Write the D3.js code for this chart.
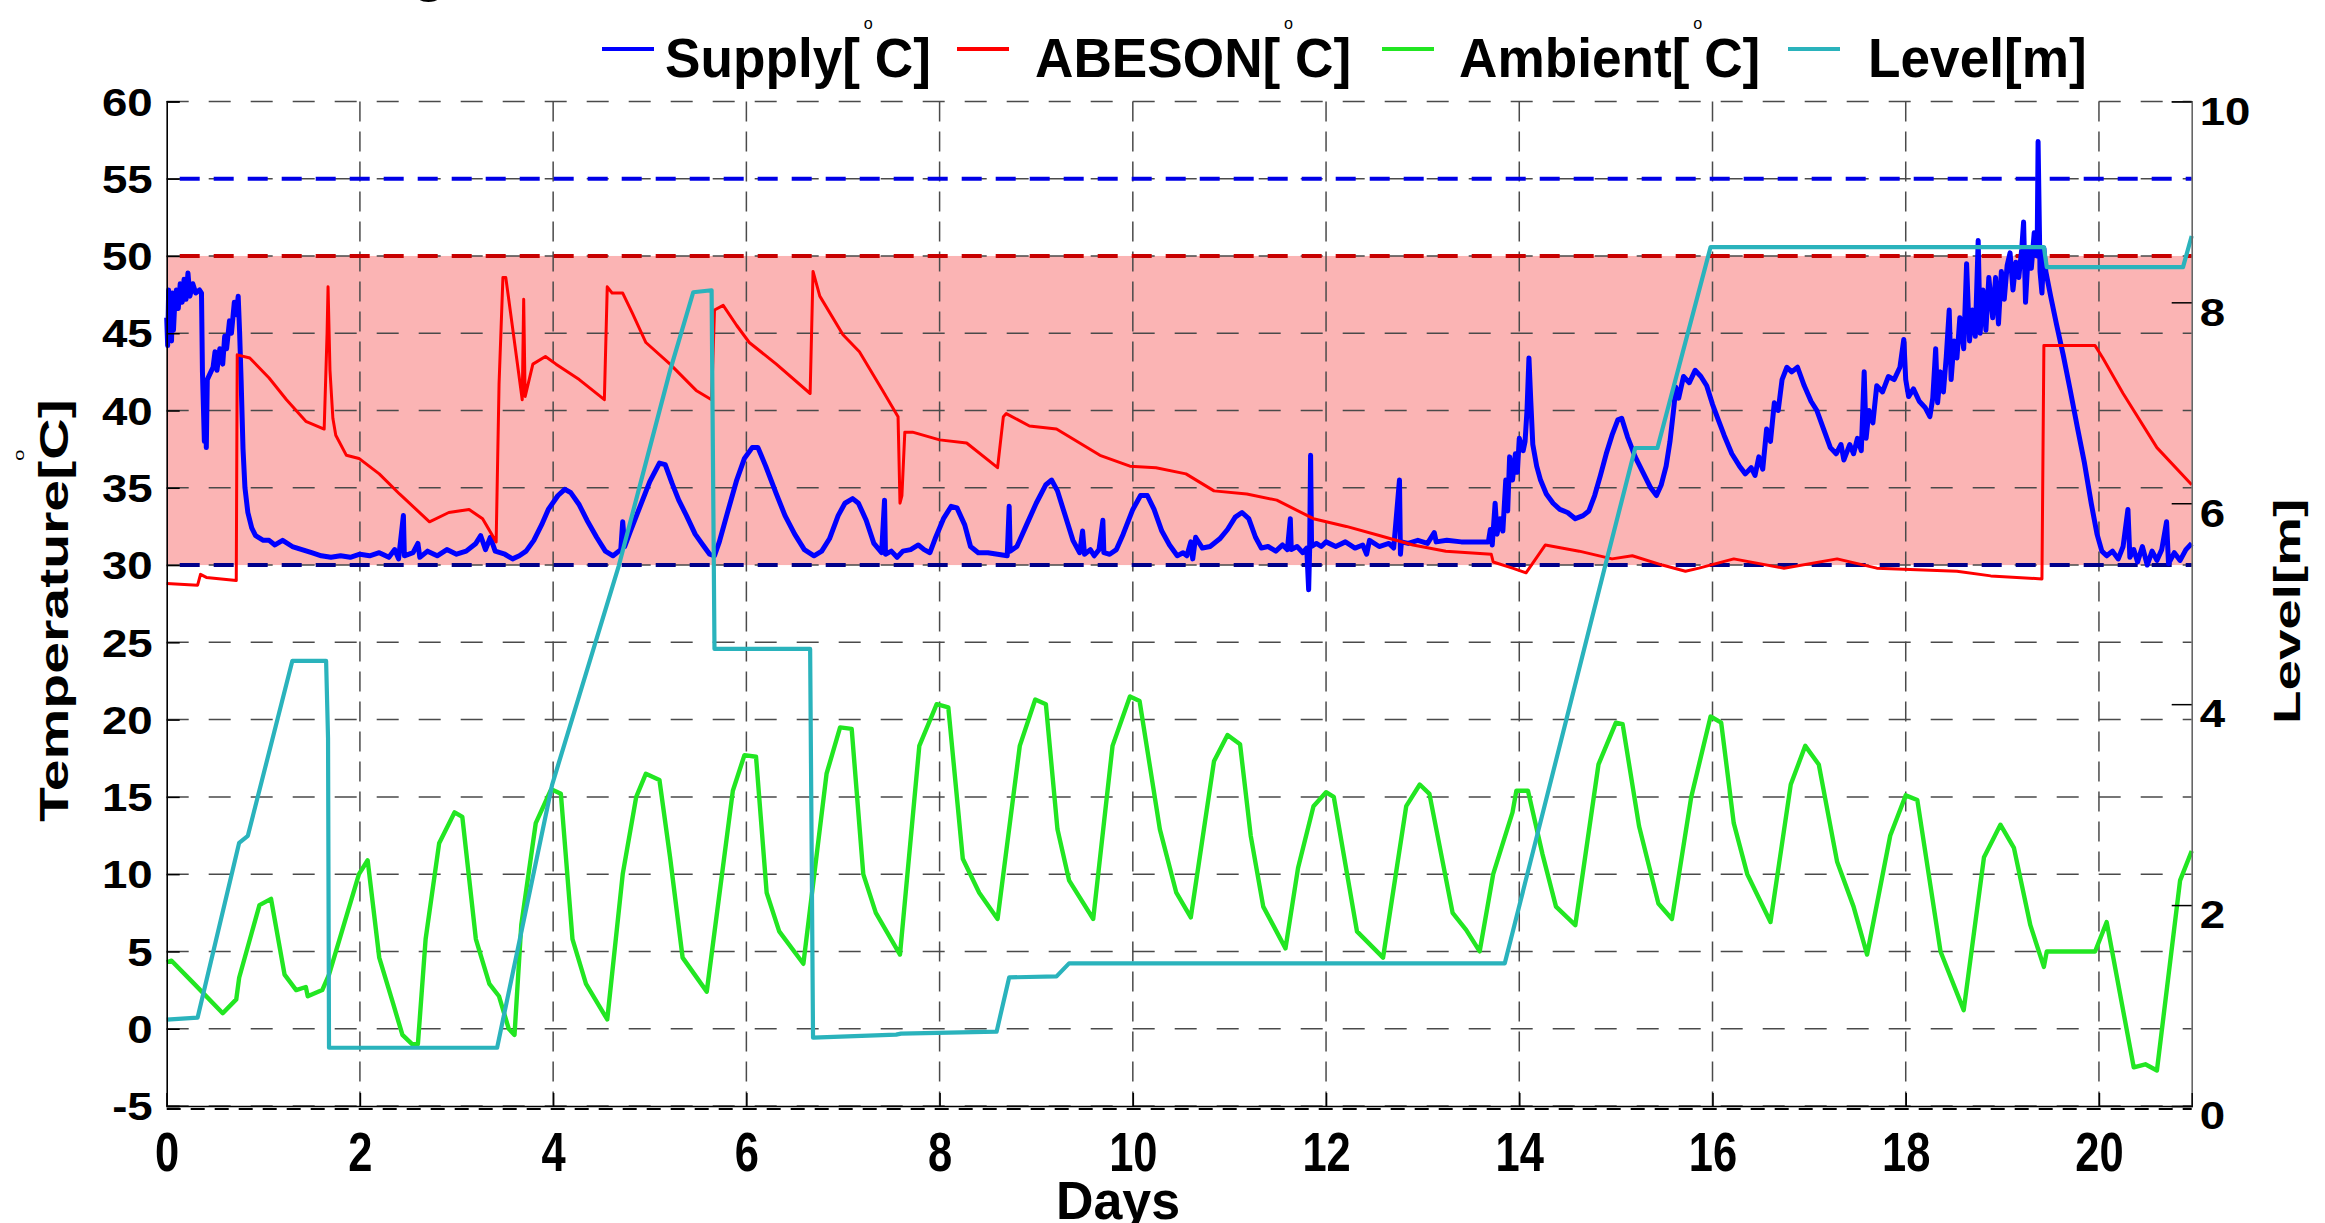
<!DOCTYPE html>
<html><head><meta charset="utf-8">
<script src="https://cdn.jsdelivr.net/npm/d3@7"></script>
<style>
html,body{margin:0;padding:0;background:#fff;overflow:hidden}
svg{display:block;font-family:"Liberation Sans",Arial,Helvetica,sans-serif;font-weight:bold}
</style></head><body>
<svg id="chart" width="2325" height="1223"></svg>
<script>
// ---------------- data ----------------
const xTicks = [0,2,4,6,8,10,12,14,16,18,20];
const tempTicks = [-5,0,5,10,15,20,25,30,35,40,45,50,55,60];
const levelTicks = [0,2,4,6,8,10];
const bandLow = 30, bandHigh = 50, supplyLimit = 55;

const supplyDays = [0,0.01,0.02,0.03,0.04,0.05,0.06,0.07,0.08,0.10,0.12,0.14,0.16,0.18,0.20,0.22,0.24,0.27,0.30,0.34,0.36,0.37,0.39,0.40,0.41,0.42,0.45,0.48,0.50,0.52,0.55,0.58,0.60,0.62,0.65,0.67,0.70,0.72,0.74,0.755,0.77,0.79,0.81,0.84,0.88,0.92,1.00,1.06,1.12,1.20,1.30,1.40,1.50,1.60,1.70,1.80,1.90,2.00,2.10,2.20,2.30,2.36,2.40,2.45,2.46,2.55,2.60,2.62,2.70,2.80,2.90,3.00,3.10,3.20,3.25,3.30,3.35,3.40,3.50,3.58,3.65,3.72,3.80,3.88,3.95,4.05,4.12,4.18,4.27,4.35,4.45,4.54,4.62,4.70,4.72,4.74,4.80,4.90,5.00,5.10,5.16,5.23,5.30,5.38,5.47,5.55,5.62,5.67,5.72,5.80,5.90,5.98,6.06,6.12,6.20,6.31,6.40,6.50,6.60,6.70,6.78,6.86,6.95,7.02,7.10,7.16,7.24,7.32,7.40,7.43,7.44,7.50,7.56,7.62,7.70,7.78,7.84,7.90,7.96,8.04,8.12,8.18,8.26,8.32,8.40,8.50,8.60,8.70,8.72,8.73,8.80,8.90,9.00,9.10,9.16,9.22,9.30,9.38,9.45,9.48,9.50,9.56,9.60,9.65,9.69,9.70,9.76,9.83,9.90,10.00,10.08,10.15,10.22,10.30,10.38,10.46,10.52,10.56,10.60,10.62,10.65,10.72,10.80,10.90,10.98,11.06,11.13,11.20,11.27,11.33,11.40,11.48,11.55,11.60,11.63,11.64,11.70,11.76,11.80,11.82,11.83,11.84,11.85,11.90,11.95,12.00,12.10,12.20,12.30,12.38,12.42,12.45,12.55,12.65,12.70,12.76,12.77,12.78,12.85,12.95,13.05,13.12,13.14,13.25,13.40,13.55,13.68,13.70,13.72,13.75,13.77,13.80,13.83,13.86,13.88,13.90,13.93,13.96,13.98,14.00,14.04,14.06,14.08,14.10,14.12,14.14,14.18,14.22,14.28,14.35,14.42,14.50,14.58,14.66,14.72,14.78,14.84,14.90,14.96,15.02,15.06,15.12,15.20,15.28,15.36,15.42,15.47,15.52,15.56,15.60,15.62,15.65,15.70,15.76,15.82,15.88,15.94,16.00,16.06,16.12,16.20,16.28,16.34,16.40,16.44,16.48,16.52,16.56,16.60,16.64,16.68,16.72,16.77,16.82,16.88,16.95,17.02,17.08,17.15,17.22,17.28,17.33,17.36,17.42,17.46,17.50,17.54,17.57,17.59,17.62,17.66,17.70,17.76,17.82,17.88,17.94,17.98,18.00,18.03,18.08,18.14,18.20,18.25,18.28,18.31,18.33,18.36,18.39,18.42,18.45,18.47,18.50,18.53,18.56,18.60,18.63,18.66,18.69,18.72,18.75,18.77,18.80,18.83,18.86,18.90,18.93,18.96,18.99,19.02,19.05,19.08,19.11,19.14,19.17,19.20,19.22,19.24,19.27,19.30,19.33,19.36,19.37,19.39,19.41,19.43,19.45,19.50,19.56,19.63,19.70,19.78,19.85,19.92,19.98,20.03,20.08,20.14,20.20,20.25,20.30,20.32,20.36,20.40,20.45,20.50,20.55,20.60,20.65,20.70,20.72,20.78,20.84,20.90,20.96];
const supplyTemp = [46.0,44.2,47.8,44.8,47.2,44.5,47.6,45.2,46.5,47.8,46.6,48.2,47.0,48.5,47.2,48.9,47.4,48.2,47.6,47.8,47.6,42.5,38.0,41.0,37.6,42.0,42.4,42.8,43.8,42.6,44.0,43.0,44.8,44.0,45.8,45.0,47.0,46.2,47.4,45.0,42.0,37.5,35.0,33.4,32.4,31.9,31.6,31.6,31.3,31.6,31.2,31.0,30.8,30.6,30.5,30.6,30.5,30.7,30.6,30.8,30.5,31.0,30.4,33.2,30.6,30.8,31.4,30.5,30.9,30.6,31.0,30.7,30.9,31.4,31.9,31.0,31.8,30.9,30.7,30.4,30.6,30.9,31.6,32.6,33.6,34.5,34.9,34.7,33.9,32.9,31.8,30.9,30.6,31.0,32.8,31.2,32.2,33.8,35.4,36.6,36.5,35.3,34.2,33.2,32.0,31.3,30.7,30.6,31.5,33.3,35.5,36.9,37.6,37.6,36.4,34.6,33.2,32.0,31.0,30.6,30.9,31.7,33.2,34.0,34.3,34.0,32.9,31.4,30.8,34.2,30.7,30.9,30.5,30.9,31.0,31.3,31.0,30.8,31.8,33.0,33.8,33.7,32.6,31.2,30.8,30.8,30.7,30.6,33.8,30.9,31.2,32.6,34.0,35.2,35.5,34.8,33.2,31.6,30.8,32.2,30.7,31.0,30.6,31.0,32.9,30.8,30.7,31.0,32.0,33.6,34.5,34.5,33.6,32.2,31.3,30.6,30.8,30.6,31.5,30.4,31.8,31.1,31.2,31.7,32.3,33.1,33.4,33.0,31.8,31.1,31.2,30.9,31.3,31.0,33.0,31.0,31.2,30.8,31.1,28.4,31.0,37.1,31.2,31.4,31.2,31.5,31.2,31.5,31.1,31.3,30.7,31.6,31.2,31.4,31.1,35.5,30.7,31.5,31.4,31.6,31.4,32.1,31.5,31.6,31.5,31.5,31.5,32.3,31.3,34.0,32.0,33.0,32.2,35.5,33.5,37.0,35.5,37.2,36.0,38.2,37.4,38.0,40.0,43.4,40.5,37.8,36.4,35.5,34.6,34.0,33.6,33.4,33.0,33.2,33.5,34.5,35.8,37.2,38.4,39.4,39.5,38.3,37.0,36.0,35.0,34.5,35.2,36.4,38.0,40.2,41.5,40.8,42.2,41.8,42.6,42.2,41.6,40.4,39.4,38.4,37.2,36.4,35.9,36.3,35.8,37.0,36.2,38.8,38.0,40.5,40.0,42.0,42.8,42.5,42.8,41.6,40.6,40.0,38.8,37.6,37.2,37.8,36.8,37.8,37.2,38.2,37.4,42.5,38.2,40.0,39.2,41.6,41.2,42.2,42.0,42.8,44.6,42.0,40.9,41.4,40.6,40.2,39.6,40.8,44.0,40.5,42.5,41.2,43.5,46.5,42.0,44.5,43.4,46.0,44.0,49.5,44.5,46.5,44.8,51.0,45.0,47.8,45.2,48.6,46.0,48.6,45.6,49.0,47.2,49.4,50.2,47.8,49.6,48.6,50.4,52.2,47.0,50.4,49.2,51.5,50.0,57.4,49.0,47.6,50.5,49.0,47.4,45.6,43.6,41.4,38.8,36.6,34.0,32.0,30.9,30.6,30.9,30.4,31.2,33.6,30.5,31.0,30.2,31.2,30.0,30.9,30.3,31.0,32.8,30.1,30.8,30.3,31.0,31.4];

const abesonDays = [0,0.32,0.35,0.41,0.72,0.73,0.86,1.06,1.24,1.44,1.63,1.66,1.67,1.69,1.72,1.75,1.86,1.99,2.20,2.41,2.72,2.92,3.13,3.27,3.41,3.44,3.48,3.51,3.68,3.695,3.71,3.79,3.92,4.03,4.27,4.53,4.56,4.61,4.72,4.82,4.96,5.21,5.48,5.64,5.67,5.76,5.90,6.03,6.31,6.66,6.69,6.76,7.00,7.17,7.41,7.57,7.59,7.61,7.64,7.72,8.00,8.28,8.60,8.66,8.69,8.93,9.21,9.66,9.97,10.24,10.55,10.84,11.18,11.49,11.87,12.21,12.56,12.90,13.24,13.71,13.73,13.93,14.07,14.27,14.62,14.96,15.17,15.48,15.72,15.86,16.22,16.74,17.29,17.70,18.53,18.88,19.41,19.43,19.96,20.04,20.25,20.60,20.96];
const abesonTemp = [28.8,28.7,29.4,29.2,29.0,43.6,43.4,42.1,40.7,39.3,38.8,45.0,48.0,42.6,39.5,38.4,37.1,36.9,35.9,34.6,32.8,33.4,33.6,33.0,31.5,41.7,48.6,48.6,40.7,47.2,40.9,43.0,43.5,43.0,42.0,40.7,48.0,47.6,47.6,46.3,44.4,43.0,41.3,40.7,46.5,46.8,45.5,44.4,43.0,41.1,49.0,47.4,44.9,43.8,41.3,39.6,34.0,34.5,38.6,38.6,38.1,37.9,36.3,39.6,39.8,39.0,38.8,37.1,36.4,36.3,35.9,34.8,34.6,34.2,33.0,32.5,31.9,31.3,30.9,30.7,30.2,29.8,29.5,31.3,30.9,30.4,30.6,30.0,29.6,29.8,30.4,29.8,30.4,29.8,29.6,29.3,29.1,44.2,44.2,43.4,41.1,37.6,35.2];

const ambientDays = [0,0.05,0.27,0.58,0.72,0.75,0.96,1.08,1.22,1.34,1.44,1.46,1.61,1.68,1.99,2.08,2.20,2.34,2.44,2.54,2.60,2.68,2.82,2.98,3.06,3.20,3.34,3.44,3.54,3.60,3.67,3.82,3.98,4.08,4.20,4.34,4.56,4.72,4.86,4.96,5.10,5.21,5.34,5.59,5.86,5.98,6.10,6.21,6.34,6.59,6.83,6.97,7.09,7.21,7.34,7.59,7.79,7.97,8.09,8.24,8.41,8.60,8.83,8.99,9.10,9.22,9.34,9.59,9.79,9.97,10.07,10.28,10.45,10.60,10.84,10.98,11.11,11.22,11.35,11.58,11.71,11.87,12.00,12.08,12.32,12.59,12.83,12.97,13.07,13.31,13.45,13.59,13.73,13.93,13.97,14.09,14.24,14.38,14.58,14.82,15.00,15.07,15.24,15.44,15.58,15.78,15.98,16.09,16.22,16.36,16.60,16.81,16.96,17.10,17.29,17.46,17.60,17.84,18.00,18.12,18.36,18.60,18.81,18.98,19.12,19.29,19.43,19.46,19.96,20.08,20.36,20.48,20.60,20.84,20.96];
const ambientTemp = [4.3,4.4,3.0,1.0,1.9,3.3,8.0,8.4,3.5,2.5,2.7,2.1,2.5,3.5,10.0,10.9,4.6,1.7,-0.4,-1.0,-1.0,5.8,12.0,14.0,13.7,5.8,2.9,2.1,0.0,-0.4,6.7,13.3,15.5,15.2,5.8,2.9,0.6,10.0,15.0,16.5,16.1,11.1,4.6,2.4,15.4,17.7,17.6,8.8,6.3,4.2,16.5,19.5,19.4,10.0,7.5,4.8,18.3,21.0,20.8,11.0,8.8,7.1,18.3,21.3,21.0,12.9,9.6,7.1,18.3,21.5,21.2,12.9,8.8,7.2,17.3,19.0,18.4,12.5,7.9,5.2,10.4,14.4,15.3,15.0,6.3,4.6,14.4,15.8,15.2,7.5,6.4,5.0,10.0,14.0,15.4,15.4,11.3,7.9,6.7,17.1,19.8,19.7,13.1,8.1,7.1,15.0,20.2,19.8,13.3,10.0,6.9,15.8,18.3,17.1,10.8,7.9,4.8,12.5,15.1,14.8,5.0,1.2,11.1,13.2,11.7,6.7,4.0,5.0,5.0,6.9,-2.5,-2.3,-2.7,9.6,11.5];

const levelDays = [0,0.32,0.75,0.84,1.30,1.65,1.67,1.68,3.42,3.99,4.68,5.21,5.45,5.64,5.67,6.66,6.69,7.55,7.60,8.59,8.72,9.21,9.34,13.85,14.89,15.20,15.43,15.98,19.43,19.46,20.87,20.96];
const levelM = [0.86,0.88,2.62,2.69,4.43,4.43,3.66,0.58,0.58,3.20,5.38,7.32,8.10,8.12,4.55,4.55,0.68,0.71,0.72,0.74,1.28,1.29,1.42,1.42,5.38,6.55,6.55,8.55,8.55,8.35,8.35,8.66];

// ---------------- layout ----------------
const svg = d3.select("#chart");
const x = d3.scaleLinear().domain([0, 20.96]).range([166.7, 2191.7]);
const y = d3.scaleLinear().domain([-5, 60]).range([1106, 101.4]);
const yR = d3.scaleLinear().domain([0, 10]).range([1106, 101.4]);
const [x0, x1] = x.range();

// pink band
svg.append("rect")
  .attr("x", x0).attr("width", x1 - x0)
  .attr("y", y(bandHigh)).attr("height", y(bandLow) - y(bandHigh))
  .attr("fill", "#fbb4b4");

// grid
const grid = svg.append("g");
grid.selectAll("line.h").data(tempTicks).join("line")
  .attr("x1", x0).attr("x2", x1)
  .attr("y1", d => y(d)).attr("y2", d => y(d))
  .attr("stroke", "#4a4a4a").attr("stroke-width", 1.5)
  .attr("stroke-dasharray", "22,20");
grid.selectAll("line.v").data(xTicks.filter(d => d > 0)).join("line")
  .attr("x1", d => x(d)).attr("x2", d => x(d))
  .attr("y1", y(60)).attr("y2", y(-5))
  .attr("stroke", "#4a4a4a").attr("stroke-width", 1.5)
  .attr("stroke-dasharray", "20,10");

// reference lines
const refs = [[supplyLimit, "#0000e6"], [bandHigh, "#c80000"], [bandLow, "#00008b"]];
svg.selectAll("line.ref").data(refs).join("line")
  .attr("x1", x0).attr("x2", x1)
  .attr("y1", d => y(d[0])).attr("y2", d => y(d[0]))
  .attr("stroke", d => d[1]).attr("stroke-width", 4)
  .attr("stroke-dasharray", "20,14").attr("stroke-dashoffset", -13);

// series
const lineT = d3.line().x(d => x(d[0])).y(d => y(d[1]));
const lineL = d3.line().x(d => x(d[0])).y(d => yR(d[1]));
const series = [
  {pts: d3.zip(supplyDays, supplyTemp), gen: lineT, color: "#0000ff", w: 5},
  {pts: d3.zip(abesonDays, abesonTemp), gen: lineT, color: "#ff0000", w: 3},
  {pts: d3.zip(ambientDays, ambientTemp), gen: lineT, color: "#22e622", w: 4.4},
  {pts: d3.zip(levelDays, levelM), gen: lineL, color: "#2ab3bc", w: 4.2}
];
svg.selectAll("path.s").data(series).join("path")
  .attr("d", d => d.gen(d.pts))
  .attr("fill", "none").attr("stroke", d => d.color)
  .attr("stroke-width", d => d.w).attr("stroke-linejoin", "round");

// axes
const fam = '"Liberation Sans",Arial,sans-serif';
const fmt = d => String(d);
const gL = svg.append("g").attr("transform", `translate(${x0},0)`)
  .call(d3.axisLeft(y).tickValues(tempTicks).tickFormat(fmt).tickSize(-13).tickPadding(0));
gL.select(".domain").attr("stroke", "#000").attr("stroke-width", 1.6);
gL.selectAll(".tick line").attr("stroke", "#000").attr("stroke-width", 1.5);
gL.selectAll(".tick text")
  .attr("font-family", fam).attr("font-weight", "bold").attr("font-size", 38)
  .attr("fill", "#000").attr("text-anchor", "end")
  .attr("transform", "scale(1.2,1)").attr("x", -14 / 1.2).attr("dy", "0.36em");

const gR = svg.append("g").attr("transform", `translate(${x1},0)`)
  .call(d3.axisRight(yR).tickValues(levelTicks).tickFormat(fmt).tickSize(-20).tickPadding(0));
gR.select(".domain").attr("stroke", "#666").attr("stroke-width", 1.6);
gR.selectAll(".tick line").attr("stroke", "#000").attr("stroke-width", 1.5);
gR.selectAll(".tick text")
  .attr("font-family", fam).attr("font-weight", "bold").attr("font-size", 38)
  .attr("fill", "#000").attr("text-anchor", "start")
  .attr("transform", "scale(1.2,1)").attr("x", 8 / 1.2).attr("dy", "0.6em");

const gB = svg.append("g").attr("transform", `translate(0,${y(-5)})`)
  .call(d3.axisBottom(x).tickValues(xTicks).tickFormat(fmt).tickSize(-13).tickPadding(0));
gB.select(".domain").attr("stroke", "#000").attr("stroke-width", 1.4);
gB.selectAll(".tick line").attr("stroke", "#000").attr("stroke-width", 1.5);
gB.selectAll(".tick text")
  .attr("font-family", fam).attr("font-weight", "bold").attr("font-size", 55)
  .attr("fill", "#000").attr("text-anchor", "middle")
  .attr("transform", "scale(0.79,1)").attr("x", 0).attr("y", 65).attr("dy", 0);
// bottom dashed overlay (as in reference)
svg.append("line").attr("x1", x0).attr("x2", x1).attr("y1", y(-5) + 3).attr("y2", y(-5) + 3)
  .attr("stroke", "#000").attr("stroke-width", 2).attr("stroke-dasharray", "14,10");

// axis titles
svg.append("text").attr("x", 1118).attr("y", 1219)
  .attr("text-anchor", "middle").attr("font-size", 54).attr("textLength", 124)
  .attr("lengthAdjust", "spacingAndGlyphs").text("Days");

const tT = svg.append("text")
  .attr("transform", "translate(68,822) rotate(-90) scale(1.43,1)")
  .attr("font-size", 40);
tT.append("tspan").text("Temperature[");
tT.append("tspan").attr("font-size", 14).attr("font-weight", "normal").attr("dy", -44).text("o");
tT.append("tspan").attr("dy", 44).attr("dx", -7).text("C]");

svg.append("text")
  .attr("transform", "translate(2300,724) rotate(-90) scale(1.48,1)")
  .attr("font-size", 37).text("Level[m]");

// partially visible title glyph at top edge
svg.append("text").attr("x", 412).attr("y", -10).attr("font-size", 56).text("g");

// legend
const legendItems = [
  {name: "Supply[", unit: "C]", color: "#0000ff", lx: 602, tx: 665},
  {name: "ABESON[", unit: "C]", color: "#ff0000", lx: 957, tx: 1035},
  {name: "Ambient[", unit: "C]", color: "#22e622", lx: 1382, tx: 1459},
  {name: "Level[m]", unit: null, color: "#2ab3bc", lx: 1788, tx: 1868}
];
const leg = svg.append("g");
leg.selectAll("line").data(legendItems).join("line")
  .attr("x1", d => d.lx).attr("x2", d => d.lx + 52)
  .attr("y1", 49).attr("y2", 49)
  .attr("stroke", d => d.color).attr("stroke-width", 4);
legendItems.forEach(d => {
  const t = leg.append("text").attr("transform", `translate(${d.tx},77) scale(0.95,1)`)
    .attr("font-size", 56);
  t.append("tspan").text(d.name);
  if (d.unit) {
    t.append("tspan").attr("font-size", 17).attr("font-weight", "normal").attr("dx", 4).attr("dy", -48).text("o");
    t.append("tspan").attr("dx", 2).attr("dy", 48).text(d.unit);
  }
});
</script>
</body></html>
